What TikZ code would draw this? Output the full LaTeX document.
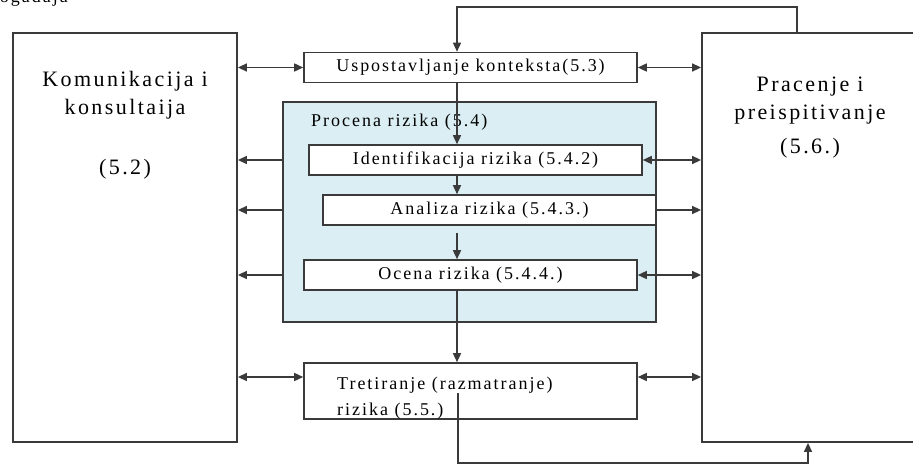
\documentclass[tikz,border=0pt]{standalone}
\usepackage{fontspec}
\setmainfont{Liberation Serif}
\newfontfamily\boxfont[LetterSpace=11]{Liberation Serif}
\newfontfamily\panelfont[LetterSpace=11]{Liberation Serif}
\usetikzlibrary{positioning,arrows.meta}
\definecolor{zonefill}{HTML}{DAEEF3}
\definecolor{linegray}{HTML}{3A3A3A}

\begin{document}
\begin{tikzpicture}[
    x=1pt, y=-1pt,
    >={Triangle[length=9pt,width=8pt]},
    panel/.style={
        draw=linegray,
        fill=white,
        line width=1.8pt,
        inner sep=0pt
    },
    stepbox/.style={
        draw=linegray,
        fill=white,
        line width=1.6pt,
        inner sep=0pt,
        minimum width=333pt,
        minimum height=30pt,
        font=\boxfont\fontsize{18}{20}\selectfont
    },
    zone/.style={
        draw=linegray,
        fill=zonefill,
        line width=1.6pt,
        inner sep=0pt
    },
    paneltext/.style={
        align=center,
        inner sep=0pt,
        font=\panelfont\fontsize{22}{28}\selectfont
    },
    steptext/.style={
        inner sep=0pt,
        align=left,
        font=\boxfont\fontsize{18}{26}\selectfont
    },
    flow/.style={line width=1.5pt, draw=linegray}
]
    \useasboundingbox (0,0) rectangle (913,465);

    \node[steptext, anchor=base east] (naslov) at (68,3) {događaja};

    \node[panel, minimum width=224pt, minimum height=409pt] (komunik) at (125,237.5) {};
    \node[panel, minimum width=216pt, minimum height=409pt] (pracenje) at (810,237.5) {};

    \node[paneltext, anchor=base] (komunikTxt) at (125,175) {Komunikacija i\\ konsultaija\\[32pt] (5.2)};
    \node[paneltext, anchor=base] (pracenjeTxt) at (810,154) {Pracenje i\\ preispitivanje\\[6pt] (5.6.)};

    \node[stepbox] (kontekst) at (470.5,67.5) {Uspostavljanje konteksta(5.3)};

    \node[zone, minimum width=373pt, minimum height=220pt] (procena) at (469.5,212) {};
    \node[steptext, anchor=base west] (procenaTxt) at (311,127) {Procena rizika (5.4)};

    \node[stepbox] (ident) at (475.5,160) {Identifikacija rizika (5.4.2)};
    \node[stepbox] (analiza) at (489.5,210) {Analiza rizika (5.4.3.)};
    \node[stepbox] (ocena) at (470.5,275) {Ocena rizika (5.4.4.)};

    \node[stepbox, minimum height=56pt] (tretman) at (470.5,391) {};
    \node[steptext, anchor=base west] (tretmanTxt) at (337,415) {Tretiranje (razmatranje)\\ rizika (5.5.)};

    \coordinate (spine) at (457,0);
    \coordinate (loopTop) at (797,7);
    \coordinate (loopBottom) at (808,463);
    \coordinate (tretStart) at (458,393);
    \coordinate (tretL) at ([yshift=14pt]tretman.west);
    \coordinate (tretR) at ([yshift=14pt]tretman.east);

    \draw[flow,->] (loopTop |- pracenje.north) -- (loopTop) -- (loopTop -| spine) -- (spine |- kontekst.north);
    \draw[flow,->] (spine |- kontekst.south) -- (spine |- ident.north);
    \draw[flow,->] (spine |- ident.south) -- (spine |- analiza.north);
    \draw[flow,->, shorten <=7pt] (spine |- analiza.south) -- (spine |- ocena.north);
    \draw[flow,->] (spine |- ocena.south) -- (spine |- tretman.north);
    \draw[flow,->] (tretStart) -- (tretStart |- loopBottom) -- (loopBottom) -- (loopBottom |- pracenje.south);

    \draw[flow,<->] (komunik.east |- kontekst.west) -- (kontekst.west);
    \draw[flow,<->] (kontekst.east) -- (pracenje.west |- kontekst.east);
    \draw[flow,->] (procena.west |- ident.west) -- (komunik.east |- ident.west);
    \draw[flow,<->] (ident.east) -- (pracenje.west |- ident.east);
    \draw[flow,->] (procena.west |- analiza.west) -- (komunik.east |- analiza.west);
    \draw[flow,->] (analiza.east) -- (pracenje.west |- analiza.east);
    \draw[flow,->] (procena.west |- ocena.west) -- (komunik.east |- ocena.west);
    \draw[flow,<->] (ocena.east) -- (pracenje.west |- ocena.east);
    \draw[flow,<->] (komunik.east |- tretL) -- (tretL);
    \draw[flow,<->] (tretR) -- (pracenje.west |- tretR);

\end{tikzpicture}
\end{document}
